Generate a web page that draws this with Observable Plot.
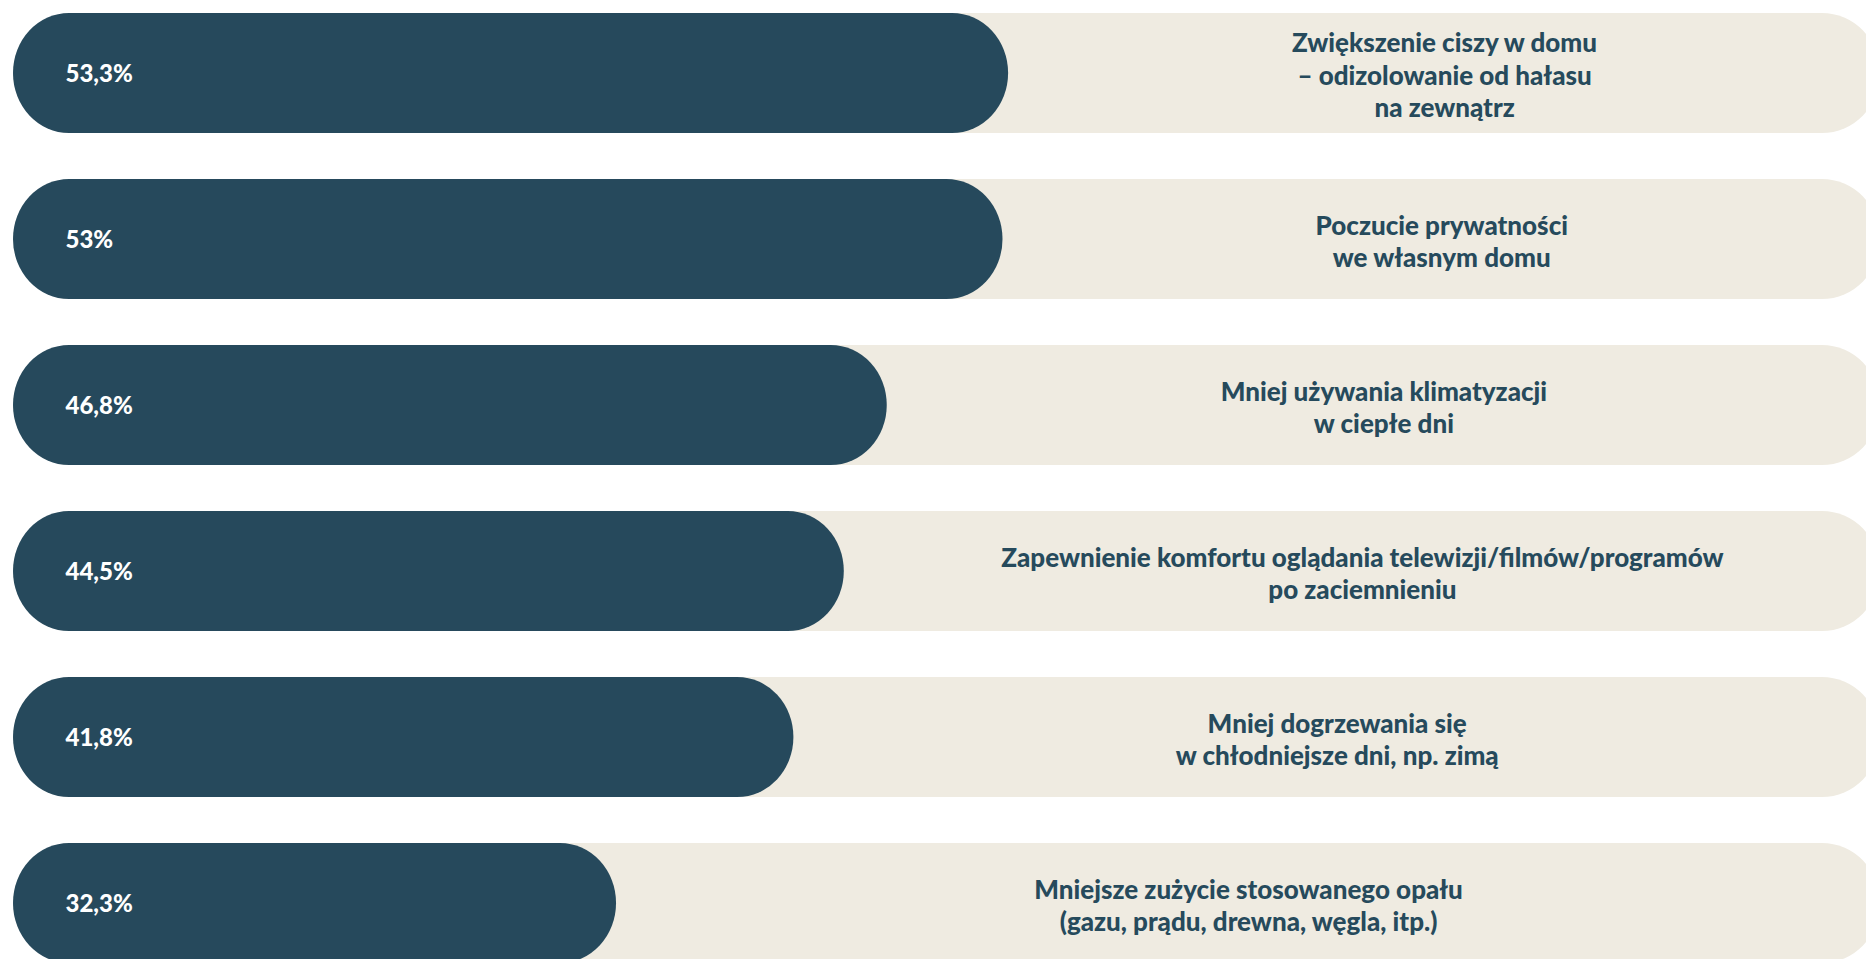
<!DOCTYPE html>
<html>
<head>
<meta charset="utf-8">
<script src="https://cdn.jsdelivr.net/npm/d3@7"></script>
<script src="https://cdn.jsdelivr.net/npm/@observablehq/plot@0.6"></script>
<style>
  html, body { margin: 0; padding: 0; background: #ffffff; overflow: hidden; }
</style>
</head>
<body>
<div id="chart"></div>
<script>
const categories = [
  "Zwiększenie ciszy w domu\n– odizolowanie od hałasu\nna zewnątrz",
  "Poczucie prywatności\nwe własnym domu",
  "Mniej używania klimatyzacji\nw ciepłe dni",
  "Zapewnienie komfortu oglądania telewizji/filmów/programów\npo zaciemnieniu",
  "Mniej dogrzewania się\nw chłodniejsze dni, np. zimą",
  "Mniejsze zużycie stosowanego opału\n(gazu, prądu, drewna, węgla, itp.)"
];
const values = [53.3, 53, 46.8, 44.5, 41.8, 32.3];
const total = 100;

const data = categories.map((c, i) => ({
  category: c,
  value: values[i],
  label: String(values[i]).replace(".", ",") + "%"
}));

const dark = "#26495c";
const light = "#efebe1";

const chart = Plot.plot({
  width: 1866,
  height: 959,
  marginLeft: 0,
  marginRight: 0,
  marginTop: 0,
  marginBottom: 0,
  style: { fontFamily: "Lato, 'Noto Sans', sans-serif", background: "#ffffff" },
  x: { domain: [0, total], range: [13, 1880], axis: null },
  y: { domain: categories, range: [13, 963], paddingInner: 0.277, paddingOuter: 0, round: false, axis: null },
  marks: [
    Plot.barX(data, { y: "category", x1: 0, x2: () => total, fill: light, rx: 58, ry: 60 }),
    Plot.barX(data, { y: "category", x1: 0, x2: "value", fill: dark, rx: 56, ry: 60 }),
    Plot.text(data, {
      y: "category", x: () => 0, text: "label", dx: 52, dy: 1, textAnchor: "start",
      fill: "#ffffff", fontSize: 24, fontWeight: 900
    }),
    Plot.text(data, {
      y: "category", x: d => (d.value + total) / 2, text: "category",
      textAnchor: "middle", lineHeight: 1.25, dy: 1,
      fill: "#264a5c", fontSize: 26, fontWeight: 900
    })
  ]
});
document.getElementById("chart").appendChild(chart);
</script>
</body>
</html>
